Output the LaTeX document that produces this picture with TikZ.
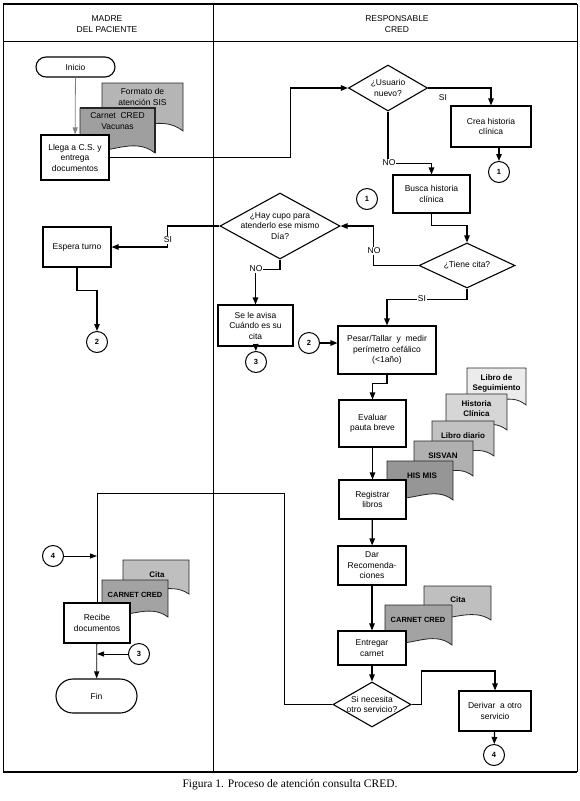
\documentclass[tikz,border=0pt]{standalone}
\usepackage{fontspec}
\setmainfont{Liberation Sans}
\newfontfamily\capfont{Liberation Serif}
\usepackage{tikz}
\usetikzlibrary{arrows.meta, shapes.geometric, positioning, calc}

\tikzset{
  proc/.style={draw, line width=1.1pt, fill=white, align=center, inner sep=1pt},
  decision/.style={diamond, draw, line width=1.1pt, fill=white, inner sep=0pt},
  term/.style={draw, line width=1.1pt, fill=white, rounded corners=#1},
  conn/.style={circle, draw, line width=1pt, fill=white, minimum size=21pt, inner sep=0pt, font=\fontsize{7.5}{9}\selectfont\bfseries},
  flow/.style={line width=1.2pt, -{Triangle[length=7pt,width=5.5pt]}},
  flowthin/.style={line width=0.8pt, -{Triangle[length=7pt,width=5pt]}},
  lbl/.style={fill=white, inner sep=1pt},
  doctxt/.style={align=center, font=\fontsize{8}{10}\selectfont\bfseries},
  docline/.style={draw=black!85, line width=0.8pt}
}

% document shape: x1, y1, x2, y2, fill
\newcommand{\docshape}[5]{%
  \pgfmathsetmacro{\dw}{#3-#1}\pgfmathsetmacro{\dh}{#4-#2}%
  \filldraw[docline, fill=#5] (#1,#2) -- (#3,#2) -- (#3,#4)
    .. controls ({#3-0.3*\dw},{#4-0.4*\dh}) and ({#1+0.35*\dw},{#4+0.1*\dh}) .. (#1,{#4-0.08*\dh}) -- cycle;}

\begin{document}
\begin{tikzpicture}[x=1pt, y=-1pt, font=\fontsize{8.5}{10.5}\selectfont]
  \useasboundingbox (0,0) rectangle (580,801);

  % frame and lanes
  \draw[line width=1.6pt] (3,4) -- (577,4);
  \draw[line width=0.8pt] (3,4) -- (3,772) (577,4) -- (577,772) (3,41) -- (577,41) (213,4) -- (213,772);
  \draw[line width=1.6pt] (3,772) -- (577,772);
  \node[align=center] (madre) at (107,24) {MADRE\\DEL PACIENTE};
  \node[align=center] (resp) at (397,24) {RESPONSABLE\\CRED};

  % documents
  \docshape{102}{83}{183}{131}{gray!58}
  \node[align=center, font=\fontsize{8.5}{10.5}\selectfont] (sis) at (142.5,97) {Formato de\\atención SIS};
  \docshape{80}{108}{155}{153}{gray!75}
  \draw[line width=1.4pt, black!85] (80,108) -- (155,108) -- (155,153);
  \node[align=center, font=\fontsize{8.5}{10.5}\selectfont] (vacunas) at (117.5,121) {Carnet~ CRED\\Vacunas};

  \docshape{467}{368}{526}{405}{gray!15}
  \node[doctxt] (libseg) at (496.5,383) {Libro de\\Seguimiento};
  \docshape{446}{394}{507}{430}{gray!32}
  \node[doctxt] (histc) at (476.5,409) {Historia\\Clínica};
  \docshape{432}{421}{494}{456}{gray!48}
  \node[doctxt] (libdia) at (463,436) {Libro diario};
  \docshape{414}{441}{473}{476}{gray!62}
  \node[doctxt] (sisvan) at (443,456) {SISVAN};
  \docshape{387}{461}{453}{500}{gray!82}
  \node[doctxt] (hismis) at (422,476) {HIS MIS};

  \docshape{424}{586}{491}{620}{gray!50}
  \node[doctxt] (cita1) at (458,600) {Cita};
  \docshape{385}{605}{452}{645}{gray!72}
  \node[doctxt, font=\fontsize{7.5}{9}\selectfont\bfseries] (carnet1) at (418,620) {CARNET CRED};

  \docshape{123}{560}{189}{594}{gray!50}
  \node[doctxt] (cita2) at (157,575) {Cita};
  \docshape{102}{580}{168}{617}{gray!72}
  \node[doctxt, font=\fontsize{7.5}{9}\selectfont\bfseries] (carnet2) at (135,595) {CARNET CRED};

  % madre del paciente
  \node[term=10pt, minimum width=79pt, minimum height=20pt] (inicio) at (75.5,67) {Inicio};
  \node[proc, minimum width=68pt, minimum height=45pt] (llega) at (75,157.5) {Llega a C.S. y\\entrega\\documentos};
  \node[proc, minimum width=68pt, minimum height=40pt] (espera) at (77,247) {Espera turno};
  \node[conn] (c2a) at (97,342) {2};
  \node[conn] (c4b) at (53,556) {4};
  \node[proc, minimum width=66pt, minimum height=40pt] (recibe) at (97,623) {Recibe\\documentos};
  \node[conn] (c3b) at (139,654) {3};
  \node[term=17pt, minimum width=81pt, minimum height=34pt] (fin) at (96.5,696) {Fin};

  % responsable CRED
  \node[decision, minimum width=79pt, minimum height=46pt] (usuario) at (388,88) {};
  \node[align=center] (usuariotxt) at (usuario) {¿Usuario\\nuevo?};
  \node[proc, minimum width=80pt, minimum height=41pt] (crea) at (491,126.5) {Crea historia\\clínica};
  \node[conn] (c1a) at (499,172) {1};
  \node[conn] (c1b) at (367,199) {1};
  \node[proc, minimum width=77pt, minimum height=38pt] (busca) at (431.5,194) {Busca historia\\clínica};
  \node[decision, minimum width=120pt, minimum height=66pt] (cupo) at (280,226) {};
  \node[align=center] (cupotxt) at (cupo) {¿Hay cupo para\\atenderlo ese mismo\\Día?};
  \node[decision, minimum width=96pt, minimum height=45pt] (tiene) at (467,265.5) {};
  \node (tienetxt) at (tiene) {¿Tiene cita?};
  \node[proc, minimum width=75pt, minimum height=41pt] (avisa) at (255.5,325.5) {Se le avisa\\Cuándo es su\\cita};
  \node[conn] (c3a) at (256,362) {3};
  \node[conn] (c2b) at (309,343) {2};
  \node[proc, minimum width=98pt, minimum height=48pt] (pesar) at (387,350) {Pesar/Tallar~ y~ medir\\perímetro cefálico\\(<1año)};
  \node[proc, minimum width=67pt, minimum height=47pt] (evaluar) at (372.5,423.5) {Evaluar\\pauta breve};
  \node[proc, minimum width=67pt, minimum height=39pt] (registrar) at (372.5,499.5) {Registrar\\libros};
  \node[proc, minimum width=68pt, minimum height=39pt] (dar) at (372,565.5) {Dar\\Recomenda-\\ciones};
  \node[proc, minimum width=68pt, minimum height=34pt] (entregar) at (372,648) {Entregar\\carnet};
  \node[decision, minimum width=78pt, minimum height=45pt] (necesita) at (372,704.5) {};
  \node[align=center] (necesitatxt) at (necesita) {Si necesita\\otro servicio?};
  \node[proc, minimum width=72pt, minimum height=40pt] (derivar) at (495,711) {Derivar~ a otro\\servicio};
  \node[conn] (c4a) at (494,755) {4};

  % connectors
  \draw[flowthin, gray] (inicio) -- (llega);
  \draw[flow] (llega.east) -- ++(181,0) |- (usuario.west);
  \draw[flow] (usuario.east) -| (crea.north);
  \node (si1) at (443,98) {SI};
  \draw[flow] (crea.south -| c1a) -- (c1a);
  \draw[flow] (usuario.south) -- ++(0,52) -| (busca.north);
  \node[lbl] (no1) at (389,163) {NO};
  \draw[flow] (busca.south) -- ++(0,12) -| (tiene.north);
  \draw[flow] (tiene.west) -- ++(-45,0) |- (cupo.east);
  \node[lbl] (no2) at (374,251) {NO};
  \draw[flow] (cupo.west) -- ++(-52,0) |- (espera.east);
  \node[lbl] (si2) at (168,240) {SI};
  \draw[flow] (espera.south) -- ++(0,23) -| (c2a);
  \draw[flow] (cupo.south) -- ++(0,10) -| (avisa.north);
  \node[lbl] (no3) at (256,269) {NO};
  \draw[flow] (avisa) -- (c3a);
  \draw[flow] (c2b) -- (pesar.west |- c2b);
  \draw[flow] (tiene.south) -- ++(0,11) -| (pesar.north);
  \node[lbl] (si3) at (422,299) {SI};
  \draw[flow] (pesar.south) -- ++(0,9) -| (evaluar.north);
  \draw[flow] (evaluar) -- (registrar);
  \draw[flow] (registrar) -- (dar);
  \draw[flow] (dar) -- (entregar);
  \draw[flow] (entregar) -- (necesita);
  \draw[flow] (necesita.east) -- ++(10,0) -- ++(0,-33.5) -| (derivar.north);
  \draw[flow] (derivar) -- (c4a);
  \draw[line width=0.8pt] (necesita.west) -- ++(-48,0) -- ++(0,-211.5) -| (recibe.north);
  \draw[flowthin] (c4b) -- (c4b -| recibe.north);
  \draw[flowthin] (recibe) -- (fin);
  \draw[flowthin] (c3b) -- (c3b -| recibe.south);

  \node[font=\capfont\fontsize{11.5}{13}\selectfont] (caption) at (290,785) {Figura 1. Proceso de atención consulta CRED.};
\end{tikzpicture}
\end{document}
